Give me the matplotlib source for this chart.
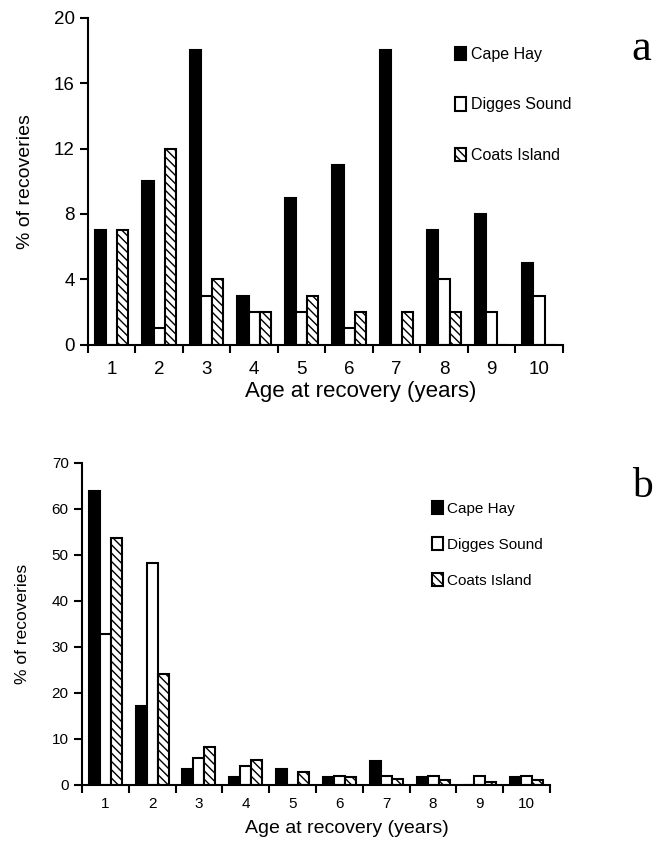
import numpy as np
import matplotlib
matplotlib.use("Agg")
import matplotlib.pyplot as plt
from matplotlib.patches import Patch

plt.rcParams["font.family"] = ["Liberation Sans", "DejaVu Sans"]
plt.rcParams["hatch.linewidth"] = 1.0

ages = ["1", "2", "3", "4", "5", "6", "7", "8", "9", "10"]
sites = ["Cape Hay", "Digges Sound", "Coats Island"]

# panel a
a_cape = [7, 10, 18, 3, 9, 11, 18, 7, 8, 5]
a_digges = [0, 1, 3, 2, 2, 1, 0, 4, 2, 3]
a_coats = [7, 12, 4, 2, 3, 2, 2, 2, 0, 0]

# panel b
b_cape = [63.8, 17.2, 3.4, 1.7, 3.4, 1.7, 5.2, 1.7, 0, 1.7]
b_digges = [32.7, 48.2, 5.9, 4.0, 0, 2.0, 2.0, 2.0, 2.0, 2.0]
b_coats = [53.6, 24.0, 8.2, 5.4, 2.8, 1.6, 1.3, 1.0, 0.6, 1.0]

styles = [dict(facecolor="black", hatch=None),
          dict(facecolor="white", hatch=None),
          dict(facecolor="white", hatch="\\\\\\\\")]

fig = plt.figure(figsize=(6.66, 8.43), dpi=100)
ax1 = fig.add_axes([0.132, 0.591, 0.713, 0.388])
ax2 = fig.add_axes([0.123, 0.069, 0.703, 0.382])


def draw(ax, series, ymax, ystep, fs_tick, fs_ylab, fs_xlab, tpad, xlab_xy, ypad,
         fs_leg, legspace, leg_anchor):
    x = np.arange(len(ages))
    w = 0.235
    for i, vals in enumerate(series):
        ax.bar(x + (i - 1) * w, vals, w, edgecolor="black", linewidth=1.5,
               **styles[i])
    ax.set_xlim(-0.5, len(ages) - 0.5)
    ax.set_ylim(0, ymax)
    ax.set_yticks(np.arange(0, ymax + 1, ystep))
    ax.set_xticks(x)
    ax.set_xticklabels(ages)
    ax.set_xticks(np.arange(-0.5, len(ages)), minor=True)
    ax.tick_params(axis="x", which="major", length=0, labelsize=fs_tick, pad=tpad)
    ax.tick_params(axis="x", which="minor", length=6, width=1.5)
    ax.tick_params(axis="y", length=6, width=1.5, labelsize=fs_tick)
    for s in ["top", "right"]:
        ax.spines[s].set_visible(False)
    for s in ["left", "bottom"]:
        ax.spines[s].set_linewidth(1.5)
    ax.set_ylabel("% of recoveries", fontsize=fs_ylab, labelpad=ypad)
    ax.set_xlabel("Age at recovery (years)", fontsize=fs_xlab)
    ax.xaxis.set_label_coords(*xlab_xy)
    handles = [Patch(edgecolor="black", linewidth=1.5, **styles[i]) for i in range(3)]
    ax.legend(handles, sites, loc="upper left", bbox_to_anchor=leg_anchor,
              frameon=False, fontsize=fs_leg, handlelength=0.7, handleheight=0.9,
              handletextpad=0.3, labelspacing=legspace, borderaxespad=0)


draw(ax1, [a_cape, a_digges, a_coats], 20, 4, 13.5, 14, 16, 12, (0.575, -0.112), 14,
     11.5, 2.2, (0.76, 0.93))
draw(ax2, [b_cape, b_digges, b_coats], 70, 10, 11, 12.5, 14, 9, (0.565, -0.108), 16,
     11, 1.4, (0.735, 0.90))

fig.text(0.963, 0.929, "a", fontsize=32, family="Liberation Serif", ha="center")
fig.text(0.965, 0.41, "b", fontsize=30, family="Liberation Serif", ha="center")

fig.savefig("out.png", dpi=100)
